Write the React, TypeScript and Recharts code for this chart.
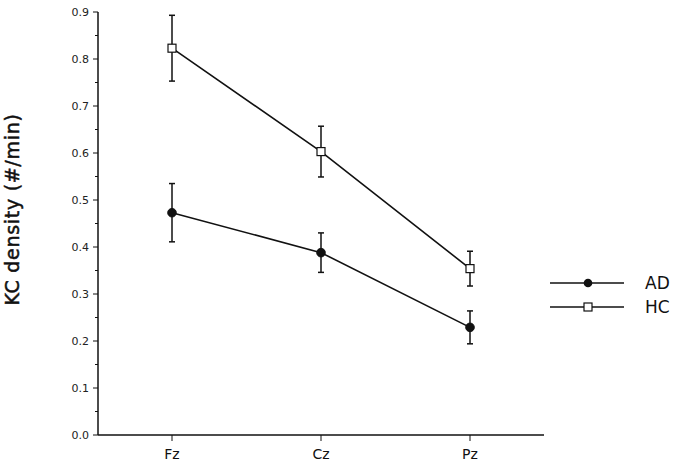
import React from 'react';
import { LineChart, Line, XAxis, YAxis, ErrorBar } from 'recharts';

const categories = ['Fz', 'Cz', 'Pz'];
const adValues = [0.473, 0.388, 0.229];
const adErrors = [0.062, 0.042, 0.035];
const hcValues = [0.823, 0.603, 0.354];
const hcErrors = [0.07, 0.054, 0.037];
const yTicks = [0, 0.05, 0.1, 0.15, 0.2, 0.25, 0.3, 0.35, 0.4, 0.45, 0.5, 0.55, 0.6, 0.65, 0.7, 0.75, 0.8, 0.85, 0.9];

const data = categories.map((c, i) => ({
  name: c,
  AD: adValues[i],
  ADerr: adErrors[i],
  HC: hcValues[i],
  HCerr: hcErrors[i],
}));

const FONT = '"DejaVu Sans", Verdana, sans-serif';

const YTick = (props: any) => {
  const { x, y, payload } = props;
  const v = payload.value as number;
  const major = Math.abs(Math.round(v * 10) - v * 10) < 1e-6;
  return (
    <g>
      <line x1={x - (major ? 5 : 3)} x2={x} y1={y} y2={y} stroke="#111" strokeWidth={1} />
      {major && (
        <text x={x - 9} y={y} dy={4} textAnchor="end" fontSize={11} fill="#222" fontFamily={FONT}>
          {v.toFixed(1)}
        </text>
      )}
    </g>
  );
};

const XTick = (props: any) => {
  const { x, y, payload } = props;
  return (
    <g>
      <line x1={x} x2={x} y1={y} y2={y + 6} stroke="#111" strokeWidth={1} />
      <text x={x} y={y + 24} textAnchor="middle" fontSize={14} fill="#111" fontFamily={FONT}>
        {payload.value}
      </text>
    </g>
  );
};

const SquareDot = (props: any) => {
  const { cx, cy } = props;
  if (cx == null || cy == null) return null;
  return <rect x={cx - 4} y={cy - 4} width={8} height={8} fill="#fff" stroke="#111" strokeWidth={1.2} />;
};

const CircleDot = (props: any) => {
  const { cx, cy } = props;
  if (cx == null || cy == null) return null;
  return <circle cx={cx} cy={cy} r={4.3} fill="#111" stroke="#111" />;
};

const LegendBox = () => (
  <svg width={130} height={50} style={{ position: 'absolute', left: 545, top: 270, overflow: 'visible' }}>
    <line x1={5} x2={79} y1={13} y2={13} stroke="#111" strokeWidth={1.6} />
    <circle cx={43} cy={13} r={4.3} fill="#111" />
    <text x={100} y={19} fontSize={17} fill="#111" fontFamily={FONT}>AD</text>
    <line x1={5} x2={79} y1={37} y2={37} stroke="#111" strokeWidth={1.6} />
    <rect x={39} y={33} width={8} height={8} fill="#fff" stroke="#111" strokeWidth={1.2} />
    <text x={100} y={43} fontSize={17} fill="#111" fontFamily={FONT}>HC</text>
  </svg>
);

export default function App() {
  return (
    <div style={{ position: 'absolute', left: 0, top: 0, width: 675, height: 465, background: '#fff' }}>
      <LineChart width={675} height={465} data={data} margin={{ top: 12, right: 131, left: 0, bottom: 0 }}>
        <XAxis
          dataKey="name"
          height={30}
          padding={{ left: 74, right: 74 }}
          tickLine={false}
          tickSize={0}
          tickMargin={0}
          tick={<XTick />}
          axisLine={{ stroke: '#111', strokeWidth: 1.5 }}
          interval={0}
        />
        <YAxis
          width={98}
          domain={[0, 0.9]}
          ticks={yTicks}
          interval={0}
          tickLine={false}
          tickSize={0}
          tickMargin={0}
          tick={<YTick />}
          axisLine={{ stroke: '#111', strokeWidth: 1.5 }}
          label={{
            value: 'KC density (#/min)',
            angle: -90,
            position: 'insideLeft',
            dx: 7,
            dy: -14,
            style: {
              fontSize: 19,
              fontFamily: FONT,
              fill: '#111',
              stroke: '#111',
              strokeWidth: 0.5,
              letterSpacing: 0.7,
              fontWeight: 'normal',
              textAnchor: 'middle',
            },
          }}
        />
        <Line
          type="linear"
          dataKey="AD"
          stroke="#111"
          strokeWidth={1.6}
          dot={<CircleDot />}
          activeDot={false}
          isAnimationActive={false}
        >
          <ErrorBar dataKey="ADerr" width={3} stroke="#111" strokeWidth={1.5} direction="y" />
        </Line>
        <Line
          type="linear"
          dataKey="HC"
          stroke="#111"
          strokeWidth={1.6}
          dot={<SquareDot />}
          activeDot={false}
          isAnimationActive={false}
        >
          <ErrorBar dataKey="HCerr" width={3} stroke="#111" strokeWidth={1.5} direction="y" />
        </Line>
      </LineChart>
      <LegendBox />
    </div>
  );
}
